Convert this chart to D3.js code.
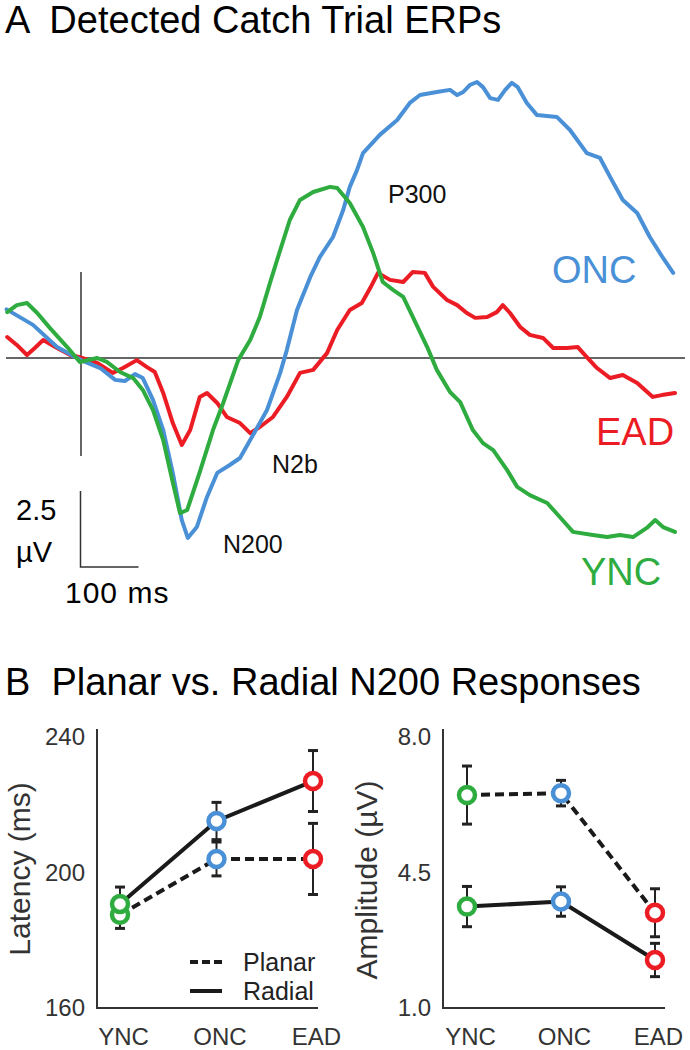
<!DOCTYPE html>
<html>
<head>
<meta charset="utf-8">
<script src="https://cdn.jsdelivr.net/npm/d3@7"></script>
<style>
  html, body { margin: 0; padding: 0; background: #fff; }
  svg { display: block; font-family: "Liberation Sans", Arial, sans-serif; }
</style>
</head>
<body>
<svg id="chart" width="690" height="1050"></svg>
<script>
// ---------------- DATA ----------------
// Panel A: ERP waveforms [time (ms), amplitude (µV)]
const oncERP = [[-124,1.60],[-80,1.09],[-40,0.36],[0,-0.07],[32,-0.33],[57,-0.72],[73,-0.76],[90,-0.53],[103,-0.66],
  [120,-1.38],[137,-2.37],[153,-3.78],[168,-5.33],[178,-5.92],[193,-5.56],[210,-4.57],[227,-3.78],[248,-3.52],[265,-3.29],
  [282,-2.70],[310,-1.71],[332,-0.49],[343,0.26],[360,1.58],[382,2.66],[398,3.32],[420,3.98],[437,4.87],[448,5.63],[460,6.18],
  [470,6.74],[498,7.34],[527,7.83],[548,8.39],[565,8.65],[593,8.75],[615,8.82],[627,8.65],[637,8.75],[648,8.98],[660,9.08],
  [670,8.91],[682,8.55],[695,8.49],[707,8.82],[718,9.05],[728,8.91],[743,8.39],[760,7.99],[793,7.93],[815,7.50],[843,6.74],
  [865,6.58],[882,5.95],[903,5.20],[927,4.77],[948,3.98],[970,3.29],[987,2.80]];
const yncERP = [[-123,1.51],[-107,1.74],[-90,1.81],[-73,1.48],[-52,0.99],[-23,0.36],[-2,-0.13],[27,0],[43,-0.13],[65,-0.46],
  [87,-0.66],[103,-1.05],[120,-1.71],[137,-2.70],[152,-4.01],[165,-5.10],[177,-5.00],[198,-3.75],[220,-2.37],[237,-1.48],
  [262,-0.07],[282,0.59],[298,1.35],[315,2.47],[332,3.55],[348,4.54],[365,5.20],[387,5.46],[415,5.63],[427,5.59],[448,5.10],
  [470,4.31],[487,3.45],[503,2.50],[520,2.24],[537,2.01],[553,1.35],[577,0.36],[593,-0.39],[615,-1.12],[632,-1.45],[653,-2.37],
  [670,-2.80],[687,-3.03],[710,-3.68],[727,-4.24],[748,-4.51],[777,-4.77],[798,-5.23],[820,-5.72],[853,-5.82],[877,-5.89],
  [898,-5.82],[920,-5.89],[943,-5.59],[957,-5.33],[970,-5.56],[990,-5.72]];
const eadERP = [[-123,0.69],[-107,0.43],[-90,0.10],[-77,0.33],[-63,0.59],[-40,0.33],[-18,0.10],[-2,0.03],[27,-0.16],[53,-0.49],
  [70,-0.33],[93,-0.07],[110,-0.30],[123,-0.46],[137,-1.15],[153,-2.14],[168,-2.86],[182,-2.37],[198,-1.28],[210,-1.15],
  [227,-1.48],[243,-1.94],[265,-2.14],[282,-2.47],[298,-2.27],[320,-1.94],[343,-1.28],[365,-0.49],[387,-0.39],[410,0.16],
  [427,0.92],[448,1.58],[468,1.81],[482,2.30],[495,2.80],[515,2.57],[537,2.50],[553,2.83],[573,2.80],[587,2.34],[610,1.91],
  [627,1.74],[643,1.48],[657,1.32],[677,1.35],[693,1.51],[703,1.74],[715,1.48],[732,1.02],[748,0.76],[770,0.66],[787,0.33],
  [810,0.33],[828,0.36],[843,0.03],[860,-0.33],[882,-0.66],[903,-0.56],[927,-0.82],[940,-1.05],[953,-1.28],[968,-1.22],[990,-1.15]];
const erpLabels = ["ONC", "EAD", "YNC"];
const peakLabels = ["P300", "N2b", "N200"];

// Panel B
const groups = ["YNC", "ONC", "EAD"];
const latencyPlanar = [187.5, 204.0, 204.0];
const latencyPlanarErr = [4.0, 5.0, 10.5];
const latencyRadial = [190.7, 215.2, 227.0];
const latencyRadialErr = [5.0, 5.5, 9.0];
const latencyTicks = [160, 200, 240];
const amplitudePlanar = [6.50, 6.55, 3.46];
const amplitudePlanarErr = [0.75, 0.33, 0.62];
const amplitudeRadial = [3.62, 3.75, 2.24];
const amplitudeRadialErr = [0.52, 0.38, 0.43];
const amplitudeTicks = [1.0, 4.5, 8.0];
const legendLabels = ["Planar", "Radial"];

// ---------------- STYLE ----------------
const colors = { YNC: "#2fac3f", ONC: "#4a90d6", EAD: "#ec1c24" };
const svg = d3.select("#chart");
const FONT = "'Liberation Sans', Arial, sans-serif";

// ---------------- PANEL A ----------------
svg.append("text").attr("x", 5).attr("y", 33).attr("font-size", 38).attr("fill", "#000")
  .attr("xml:space", "preserve").text("A  Detected Catch Trial ERPs");

const xT = d3.scaleLinear().domain([-125, 1000]).range([6, 681]);
const yV = d3.scaleLinear().domain([0, 10]).range([358, 54]);

// baseline and onset line
svg.append("line").attr("x1", 6).attr("x2", 685).attr("y1", yV(0)).attr("y2", yV(0))
  .attr("stroke", "#333").attr("stroke-width", 1.5);
svg.append("line").attr("x1", xT(0)).attr("x2", xT(0)).attr("y1", yV(2.83)).attr("y2", yV(-3.22))
  .attr("stroke", "#333").attr("stroke-width", 1.5);

const line = d3.line().x(d => xT(d[0])).y(d => yV(d[1]));
[[eadERP, "EAD"], [oncERP, "ONC"], [yncERP, "YNC"]].forEach(([data, g]) => {
  svg.append("path").datum(data).attr("d", line).attr("fill", "none")
    .attr("stroke", colors[g]).attr("stroke-width", 4)
    .attr("stroke-linejoin", "round").attr("stroke-linecap", "round");
});

// scale bar: 100 ms x 2.5 µV
const sbX0 = xT(0) - 0.5, sbY0 = 567;
const sbH = yV(0) - yV(2.5), sbW = xT(100) - xT(0);
svg.append("path").attr("d", `M${sbX0},${sbY0 - sbH} L${sbX0},${sbY0} L${sbX0 + sbW - 2},${sbY0}`)
  .attr("fill", "none").attr("stroke", "#333").attr("stroke-width", 1.5);
svg.append("text").attr("x", 16).attr("y", 520).attr("font-size", 29).text("2.5");
svg.append("text").attr("x", 16).attr("y", 562).attr("font-size", 29).text("µV");
svg.append("text").attr("x", 65).attr("y", 603).attr("font-size", 30).attr("letter-spacing", 1).text("100 ms");

// group labels
const erpLabelPos = { ONC: [552, 283], EAD: [596, 445], YNC: [581, 585] };
erpLabels.forEach(g => {
  svg.append("text").attr("x", erpLabelPos[g][0]).attr("y", erpLabelPos[g][1])
    .attr("font-size", 38).attr("fill", colors[g]).text(g);
});
// peak labels
const peakPos = { P300: [388, 203], N2b: [272, 473], N200: [223, 553] };
peakLabels.forEach(p => {
  svg.append("text").attr("x", peakPos[p][0]).attr("y", peakPos[p][1])
    .attr("font-size", 25).attr("fill", "#111").text(p);
});

// ---------------- PANEL B ----------------
svg.append("text").attr("x", 5).attr("y", 695).attr("font-size", 38).attr("fill", "#000")
  .attr("xml:space", "preserve").text("B  Planar vs. Radial N200 Responses");

function drawPanel(opt) {
  const g = svg.append("g");
  const x = d3.scalePoint().domain(groups).range(opt.xRange);
  const y = d3.scaleLinear().domain(opt.yDomain).range([1008, 737]);

  // axes lines
  g.append("path")
    .attr("d", `M${opt.axisX},${y(opt.yDomain[1]) - 8} L${opt.axisX},${y(opt.yDomain[0])} L${opt.axisEnd},${y(opt.yDomain[0])}`)
    .attr("fill", "none").attr("stroke", "#333").attr("stroke-width", 2);

  // y tick labels via axis
  const ax = g.append("g").attr("transform", `translate(${opt.axisX},0)`)
    .call(d3.axisLeft(y).tickValues(opt.ticks).tickSize(0).tickPadding(12).tickFormat(opt.fmt));
  ax.select(".domain").remove();
  ax.selectAll("text").attr("font-size", 24).attr("font-family", FONT).attr("fill", "#333");

  // x labels via axis
  const axb = g.append("g").attr("transform", `translate(0,${y(opt.yDomain[0])})`)
    .call(d3.axisBottom(x).tickSize(0).tickPadding(20));
  axb.select(".domain").remove();
  axb.selectAll("text").attr("font-size", 24).attr("font-family", FONT).attr("fill", "#333")
    .attr("dx", 3);

  // y title
  g.append("text").attr("transform", `translate(${opt.titleX},${opt.titleY}) rotate(-90)`)
    .attr("text-anchor", "middle").attr("font-size", 30).attr("fill", "#333").text(opt.title);

  const series = [
    { v: opt.planar, e: opt.planarErr, dash: "9,5" },
    { v: opt.radial, e: opt.radialErr, dash: null }
  ];
  // error bars
  series.forEach(s => {
    groups.forEach((grp, i) => {
      const cx = x(grp), top = y(s.v[i] + s.e[i]), bot = y(s.v[i] - s.e[i]);
      g.append("line").attr("x1", cx).attr("x2", cx).attr("y1", top).attr("y2", bot)
        .attr("stroke", "#222").attr("stroke-width", 2);
      [top, bot].forEach(yy => g.append("line").attr("x1", cx - 5).attr("x2", cx + 5)
        .attr("y1", yy).attr("y2", yy).attr("stroke", "#222").attr("stroke-width", 3));
    });
  });
  // lines
  const ln = d3.line().x((d, i) => x(groups[i])).y(d => y(d));
  series.forEach(s => {
    const p = g.append("path").datum(s.v).attr("d", ln).attr("fill", "none")
      .attr("stroke", "#1a1a1a").attr("stroke-width", 4);
    if (s.dash) p.attr("stroke-dasharray", s.dash);
  });
  // markers
  series.forEach(s => {
    groups.forEach((grp, i) => {
      g.append("circle").attr("cx", x(grp)).attr("cy", y(s.v[i])).attr("r", 8)
        .attr("fill", "#fff").attr("stroke", colors[grp]).attr("stroke-width", 4.5);
    });
  });
  return g;
}

const latG = drawPanel({
  xRange: [120, 313], axisX: 97, axisEnd: 318, yDomain: [160, 240], ticks: latencyTicks,
  fmt: d3.format("d"), planar: latencyPlanar, planarErr: latencyPlanarErr,
  radial: latencyRadial, radialErr: latencyRadialErr, title: "Latency (ms)", titleX: 30, titleY: 869
});
drawPanel({
  xRange: [467, 655], axisX: 443, axisEnd: 665, yDomain: [1, 8], ticks: amplitudeTicks,
  fmt: d3.format(".1f"), planar: amplitudePlanar, planarErr: amplitudePlanarErr,
  radial: amplitudeRadial, radialErr: amplitudeRadialErr, title: "Amplitude (µV)", titleX: 377, titleY: 880
});

// legend
legendLabels.forEach((lab, i) => {
  const ly = 962 + i * 29;
  const l = latG.append("line").attr("x1", 190).attr("x2", 222).attr("y1", ly).attr("y2", ly)
    .attr("stroke", "#1a1a1a").attr("stroke-width", 4);
  if (i === 0) l.attr("stroke-dasharray", "8,4");
  latG.append("text").attr("x", 243).attr("y", ly).attr("dy", "0.35em")
    .attr("font-size", 25).attr("fill", "#222").text(lab);
});
</script>
</body>
</html>
